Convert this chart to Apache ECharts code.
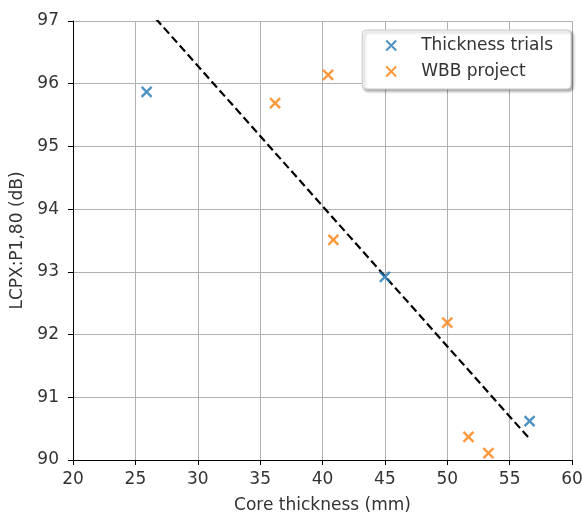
<!DOCTYPE html>
<html><head><meta charset="utf-8">
<script src="https://cdn.jsdelivr.net/npm/echarts@6/dist/echarts.min.js"></script>
<style>html,body{margin:0;padding:0;background:#fff}#c{width:582px;height:512px}</style>
</head><body><div id="c"></div>
<script>
const trialsX = [25.9, 45.0, 56.6];
const trialsY = [95.87, 92.92, 90.62];
const wbbX = [36.2, 40.45, 40.87, 50.0, 51.7, 53.3];
const wbbY = [95.69, 96.14, 93.51, 92.19, 90.37, 90.11];
const fitX = [26.0, 56.5];
const fitY = [97.18, 90.36];
const seriesNames = ['Thickness trials', 'WBB project'];
const xTicks = [20, 25, 30, 35, 40, 45, 50, 55, 60];
const yTicks = [90, 91, 92, 93, 94, 95, 96, 97];

const xPath = 'path://M0,0L10,10M10,0L0,10';
const font = 'DejaVu Sans';
const fs = 17;
const zip = (a, b) => a.map((v, i) => [v, b[i]]);

const chart = echarts.init(document.getElementById('c'));
chart.setOption({
  animation: false,
  grid: {left: 73, top: 21, right: 10, bottom: 52, outerBoundsMode: 'none', containLabel: false},
  xAxis: {
    type: 'value', min: xTicks[0], max: xTicks[xTicks.length - 1], interval: 5,
    name: 'Core thickness (mm)', nameLocation: 'middle', nameGap: 37,
    nameTextStyle: {fontFamily: font, fontSize: fs, color: '#333'},
    axisLine: {onZero: false, lineStyle: {color: '#000', width: 1}},
    axisTick: {show: true, length: 5, lineStyle: {color: '#000'}},
    axisLabel: {fontFamily: font, fontSize: fs, color: '#333', margin: 11},
    splitLine: {show: true, lineStyle: {color: '#b0b0b0', width: 1}}
  },
  yAxis: {
    type: 'value', min: yTicks[0], max: yTicks[yTicks.length - 1], interval: 1,
    name: 'LCPX:P1,80 (dB)', nameLocation: 'middle', nameGap: 45,
    nameTextStyle: {fontFamily: font, fontSize: fs, color: '#333'},
    axisLine: {onZero: false, lineStyle: {color: '#000', width: 1}},
    axisTick: {show: true, length: 5, lineStyle: {color: '#000'}},
    axisLabel: {fontFamily: font, fontSize: fs, color: '#333', margin: 14},
    splitLine: {show: true, lineStyle: {color: '#b0b0b0', width: 1}}
  },
  legend: {
    orient: 'vertical', right: 11, top: 30,
    data: seriesNames.map(n => ({name: n, icon: xPath})),
    itemWidth: 10, itemHeight: 10, itemGap: 9,
    padding: [7, 18, 9, 23],
    backgroundColor: '#fff', borderColor: '#ccc', borderWidth: 1, borderRadius: 4,
    shadowColor: 'rgba(0,0,0,0.35)', shadowBlur: 3, shadowOffsetX: 2, shadowOffsetY: 2,
    textStyle: {fontFamily: font, fontSize: fs, color: '#333', padding: [0, 0, 0, 20]}
  },
  series: [
    {
      type: 'line', data: zip(fitX, fitY), symbol: 'none', clip: true, silent: true,
      lineStyle: {color: '#000', width: 2.2, type: [8, 4]}, z: 1
    },
    {
      name: seriesNames[0], type: 'scatter', data: zip(trialsX, trialsY),
      symbol: xPath, symbolSize: 10,
      itemStyle: {color: 'rgba(0,0,0,0)', borderColor: '#1f77b4', borderWidth: 2.4}, z: 3
    },
    {
      name: seriesNames[1], type: 'scatter', data: zip(wbbX, wbbY),
      symbol: xPath, symbolSize: 10,
      itemStyle: {color: 'rgba(0,0,0,0)', borderColor: '#ff7f0e', borderWidth: 2.4}, z: 3
    }
  ]
});
</script></body></html>
